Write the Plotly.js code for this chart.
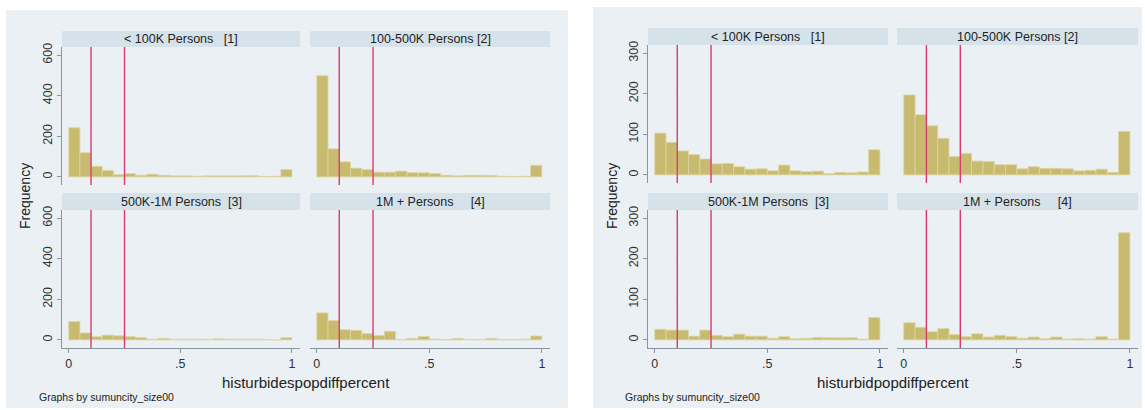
<!DOCTYPE html>
<html><head><meta charset="utf-8">
<script src="https://cdn.plot.ly/plotly-3.0.1.min.js"></script>
<style>html,body{margin:0;padding:0;background:#fff;} #chart{width:1145px;height:410px;}</style>
</head><body><div id="chart"></div>
<script>
// ---- data ----
const binCenters = [0.025,0.075,0.125,0.175,0.225,0.275,0.325,0.375,0.425,0.475,
                    0.525,0.575,0.625,0.675,0.725,0.775,0.825,0.875,0.925,0.975];
const panelTitles = ["&lt; 100K Persons\u00a0\u00a0\u00a0[1]", "100-500K Persons [2]",
                     "500K-1M Persons\u00a0\u00a0[3]", "1M + Persons\u00a0\u00a0\u00a0\u00a0\u00a0[4]"];
// left graph: histurbidespopdiffpercent
const desUnder100K = [242,119,52,32,11,16,8,13,8,5,5,3,5,5,5,5,6,2,3,36];
const des100to500K = [498,138,74,43,36,23,23,28,21,20,16,8,5,8,8,7,3,2,3,57];
const des500Kto1M  = [90,34,16,23,20,16,11,3,7,3,3,3,3,5,3,3,3,2,0,11];
const des1Mplus    = [133,95,50,47,31,22,42,2,7,17,4,1,7,2,2,7,2,2,3,19];
// right graph: histurbidpopdiffpercent
const popUnder100K = [103,80,59,50,39,27,28,20,14,15,10,24,10,8,9,3,6,5,7,62];
const pop100to500K = [197,148,121,90,45,53,34,33,25,25,15,20,16,16,15,10,11,14,6,107];
const pop500Kto1M  = [26,24,24,9,24,11,8,14,9,9,4,8,3,4,6,5,5,5,2,55];
const pop1Mplus    = [42,31,20,28,13,8,15,7,11,8,4,7,3,7,2,3,2,8,2,264];
const cutoffs = [0.1, 0.25];
const xTickVals = [0, 0.5, 1];
const xTickText = ["0", ".5", "1"];
const yTicksLeft = [0, 200, 400, 600];
const yTicksRight = [0, 100, 200, 300];
const xTitleLeft = "histurbidespopdiffpercent";
const xTitleRight = "histurbidpopdiffpercent";
const yTitle = "Frequency";
const noteText = "Graphs by sumuncity_size00";

// ---- layout helpers ----
const W = 1145, H = 410;
const px = x => x / W, py = y => 1 - y / H;
const BG = '#eaf0f4', STRIP = '#d6e2ea', BAR = '#c8bb70', RED = '#d93a6e';
const FONT = 'Liberation Sans, Arial, sans-serif';

const graphs = [
  {series:[desUnder100K,des100to500K,des500Kto1M,des1Mplus], yr:[-40,640], yt:yTicksLeft,
   bg:[6,10,568,408], cols:[[62,300],[310,550]], rows:[[47,185,31],[210,348,193]],
   xt:xTitleLeft, yTitleX:25, noteX:37},
  {series:[popUnder100K,pop100to500K,pop500Kto1M,pop1Mplus], yr:[-20,320], yt:yTicksRight,
   bg:[593,7,1142,408], cols:[[648,888],[897,1138]], rows:[[45,183,28],[210,348,193]],
   xt:xTitleRight, yTitleX:612, noteX:623}
];

const data = [], shapes = [], annotations = [];
const layout = {
  width: W, height: H, margin:{l:0,r:0,t:0,b:0}, paper_bgcolor:'#fff', plot_bgcolor:'#fff',
  showlegend:false, bargap:0, font:{family:FONT, color:'#222', size:12}
};

let k = 0;
graphs.forEach(g => {
  shapes.push({type:'rect', xref:'paper', yref:'paper', x0:px(g.bg[0]), x1:px(g.bg[2]),
    y0:py(g.bg[3]), y1:py(g.bg[1]), fillcolor:BG, line:{width:0}, layer:'below'});
  g.series.forEach((vals, i) => {
    k++;
    const r = Math.floor(i / 2), c = i % 2;
    const col = g.cols[c], row = g.rows[r];
    const xa = 'xaxis' + (k === 1 ? '' : k), ya = 'yaxis' + (k === 1 ? '' : k);
    const xr = 'x' + (k === 1 ? '' : k), yr = 'y' + (k === 1 ? '' : k);
    data.push({type:'bar', x:binCenters, y:vals, width:0.05, xaxis:xr, yaxis:yr,
      marker:{color:BAR, line:{color:'#ddd5a0', width:0.8}}, hoverinfo:'x+y'});
    layout[xa] = {domain:[px(col[0]), px(col[1])], range:[-0.03, 1.036], anchor:yr,
      showgrid:false, zeroline:false, fixedrange:true,
      showline: r === 1, linecolor:'#8a969e', linewidth:1,
      ticks: r === 1 ? 'outside' : '', ticklen:4, tickcolor:'#8a969e',
      tickvals:xTickVals, ticktext:xTickText, showticklabels: r === 1,
      tickfont:{size:12.5, color:'#333', family:FONT}};
    layout[ya] = {domain:[py(row[1]), py(row[0])], range:g.yr, anchor:xr,
      showgrid:true, gridcolor:'#eef2f5', gridwidth:1, zeroline:false, fixedrange:true,
      showline: c === 0, linecolor:'#8a969e', linewidth:1,
      ticks: c === 0 ? 'outside' : '', ticklen:4, tickcolor:'#8a969e',
      tickvals:g.yt, showticklabels: c === 0, tickangle:-90,
      tickfont:{size:12.5, color:'#333', family:FONT}};
    // strip header
    shapes.push({type:'rect', xref:'paper', yref:'paper', x0:px(col[0]), x1:px(col[1]),
      y0:py(row[0]), y1:py(row[2]), fillcolor:STRIP, line:{width:0}, layer:'below'});
    annotations.push({xref:'paper', yref:'paper', x:(px(col[0])+px(col[1]))/2,
      y:(py(row[0])+py(row[2]))/2, text:panelTitles[i], showarrow:false,
      xanchor:'center', yanchor:'middle', font:{size:12.5, color:'#222', family:FONT}});
    // cutoff lines
    cutoffs.forEach(cv => shapes.push({type:'line', xref:xr, yref:yr + ' domain',
      x0:cv, x1:cv, y0:0, y1:1, line:{color:RED, width:1.4}}));
  });
  const cx = (px(g.cols[0][0]) + px(g.cols[1][1])) / 2;
  annotations.push({xref:'paper', yref:'paper', x:cx, y:py(382), text:g.xt, showarrow:false,
    xanchor:'center', yanchor:'middle', font:{size:15, color:'#222', family:FONT}});
  annotations.push({xref:'paper', yref:'paper', x:px(g.yTitleX), y:py(196), text:yTitle,
    showarrow:false, textangle:-90, xanchor:'center', yanchor:'middle',
    font:{size:14, color:'#222', family:FONT}});
  annotations.push({xref:'paper', yref:'paper', x:px(g.noteX), y:py(397), text:noteText,
    showarrow:false, xanchor:'left', yanchor:'middle',
    font:{size:10.5, color:'#222', family:FONT}});
});
layout.shapes = shapes;
layout.annotations = annotations;
Plotly.newPlot('chart', data, layout, {displayModeBar:false, staticPlot:true});
</script></body></html>
